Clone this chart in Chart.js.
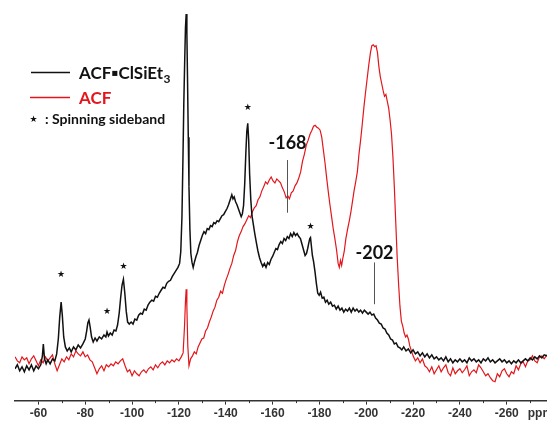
<!DOCTYPE html>
<html>
<head>
<meta charset="utf-8">
<script src="https://cdn.jsdelivr.net/npm/chart.js@4"></script>
<style>
  body { margin: 0; background: #fff; }
  canvas { display: block; }
</style>
</head>
<body>
<canvas id="myChart" width="547" height="423"></canvas>
<script>
// chemical shift (ppm) and intensity (a.u.)
const blackPpm = [
  -50, -51, -52, -53, -54, -55, -56, -57, -58, -59,
  -60, -61, -61.7, -62.1, -62.6, -63.3, -64, -65, -66, -67,
  -67.8, -68.5, -69.1, -69.7, -70.2, -70.8, -71.5, -72.3, -73.2, -74,
  -75, -76, -77, -78, -79, -80, -80.6, -81.1, -81.6, -82.1,
  -82.7, -83.4, -84.2, -85, -86, -87, -88, -88.8, -89.3, -89.9,
  -90.7, -91.5, -92.3, -93.1, -93.8, -94.5, -95.1, -95.7, -96.3, -96.9,
  -97.5, -98.1, -98.8, -99.6, -100.4, -101.2, -102, -102.8, -103.6, -104.4,
  -105.2, -106, -106.8, -107.6, -108.4, -109.2, -110, -110.8, -111.6, -112.4,
  -113.2, -114, -114.8, -115.6, -116.4, -117.2, -118, -118.8, -119.6, -120.3,
  -120.8, -121.3, -121.7, -122.1, -122.5, -122.8, -123.1, -123.4, -123.7, -124,
  -124.3, -124.7, -125.1, -125.6, -126.1, -126.7, -127.3, -127.9, -128.6, -129.3,
  -130, -130.7, -131.4, -132.1, -132.8, -133.5, -134.2, -134.9, -135.6, -136.3,
  -137, -137.7, -138.4, -139.1, -139.8, -140.5, -141.2, -141.9, -142.6, -143.1,
  -143.6, -144.2, -144.8, -145.4, -146, -146.6, -147.1, -147.6, -148.1, -148.6,
  -149, -149.4, -149.8, -150.2, -150.7, -151.2, -151.8, -152.4, -153, -153.7,
  -154.4, -155.1, -155.8, -156.5, -157.2, -157.9, -158.6, -159.3, -160, -160.7,
  -161.4, -162.1, -162.8, -163.5, -164.2, -164.9, -165.6, -166.3, -167, -167.7,
  -168.4, -169.1, -169.8, -170.5, -171.2, -171.9, -172.6, -173.3, -173.9, -174.5,
  -175, -175.5, -175.9, -176.2, -176.6, -177, -177.5, -178.1, -178.7, -179.3,
  -179.9, -180.5, -181.2, -181.9, -182.6, -183.3, -184, -184.8, -185.6, -186.4,
  -187.2, -188, -188.8, -189.6, -190.4, -191.2, -192, -192.8, -193.6, -194.4,
  -195.2, -196, -196.8, -197.6, -198.4, -199.2, -200, -200.8, -201.6, -202.4,
  -203.2, -204, -204.8, -205.6, -206.4, -207.2, -208, -208.8, -209.6, -210.4,
  -211.2, -212, -212.8, -213.6, -214.4, -215.2, -216, -217, -218, -219,
  -220, -221, -222, -223, -224, -225, -226, -227, -228, -229,
  -230, -231, -232, -233, -234, -235, -236, -237, -238, -239,
  -240, -241, -242, -243, -244, -245, -246, -247, -248, -249,
  -250, -251, -252, -253, -254, -255, -256, -257, -258, -259,
  -260, -261, -262, -263, -264, -265, -266, -267, -268, -269,
  -270, -271, -272, -273, -274, -275, -276, -277.2
];
const blackInt = [
  32, 36, 30, 34, 29, 35, 31, 36, 30, 35,
  32, 36, 45, 57, 42, 37, 41, 37, 42, 40,
  47, 62, 84, 99, 86, 64, 54, 50, 53, 49,
  54, 51, 56, 53, 57, 62, 70, 78, 81, 74,
  64, 59, 63, 60, 64, 62, 66, 64, 69, 65,
  68, 66, 71, 70, 76, 88, 103, 116, 122, 108,
  90, 79, 77, 79, 77, 82, 81, 86, 88, 87,
  92, 91, 96, 99, 101, 100, 105, 104, 108, 111,
  114, 113, 118, 120, 121, 125, 128, 131, 134, 138,
  150, 185, 240, 300, 345, 375, 389, 370, 320, 265,
  215, 172, 148, 139, 134, 140, 145, 149, 156, 161,
  166, 170, 168, 173, 172, 176, 175, 179, 178, 181,
  180, 183, 186, 187, 190, 193, 197, 202, 207, 203,
  205, 200, 197, 193, 189, 185, 188, 196, 218, 250,
  271, 279, 262, 228, 202, 186, 177, 168, 160, 151,
  144, 139, 135, 138, 134, 139, 137, 142, 145, 149,
  153, 152, 157, 160, 158, 163, 161, 165, 163, 168,
  165, 169, 166, 168, 165, 163, 157, 151, 146, 148,
  153, 159, 163, 164, 155, 146, 140, 130, 118, 108,
  106, 109, 103, 104, 99, 101, 97, 99, 95, 96,
  92, 95, 91, 93, 89, 92, 90, 93, 89, 93,
  90, 92, 89, 91, 88, 91, 89, 87, 89, 86,
  87, 83, 81, 78, 77, 73, 72, 68, 66, 62,
  61, 57, 58, 54, 53, 51, 54, 50, 52, 48,
  51, 47, 49, 45, 48, 44, 47, 43, 46, 42,
  44, 41, 43, 40, 44, 39, 42, 38, 41, 39,
  42, 39, 41, 38, 43, 40, 42, 39, 41, 38,
  42, 40, 43, 39, 41, 38, 40, 42, 39, 41,
  38, 40, 37, 40, 38, 41, 38, 40, 42, 40,
  43, 41, 44, 42, 45, 43, 46, 45
];

const redPpm = [
  -50, -51, -52, -53, -54, -55, -56, -57, -58, -59,
  -60, -61, -62, -63, -64, -65, -66, -67, -68, -69,
  -70, -71, -72, -73, -74, -75, -76, -77, -78, -79,
  -80, -81, -82, -83, -84, -85, -86, -87, -88, -89,
  -90, -91, -92, -93, -94, -95, -96, -97, -98, -99,
  -100, -101, -102, -103, -104, -105, -106, -107, -108, -109,
  -110, -111, -112, -113, -114, -115, -116, -117, -118, -119,
  -120, -121, -121.8, -122.4, -122.8, -123.1, -123.4, -123.8, -124.3, -125,
  -125.8, -126.6, -127.4, -128.2, -129, -129.8, -130.6, -131.4, -132.2, -133,
  -133.8, -134.6, -135.4, -136.2, -137, -137.8, -138.6, -139.4, -140.2, -141,
  -141.8, -142.6, -143.4, -144.2, -145, -145.8, -146.6, -147.4, -148.2, -149,
  -149.8, -150.6, -151.4, -152.2, -153, -153.8, -154.6, -155.4, -156.2, -157,
  -157.8, -158.6, -159.4, -160.2, -161, -161.8, -162.6, -163.4, -164.2, -165,
  -165.8, -166.5, -167.2, -168, -168.8, -169.6, -170.4, -171.2, -172, -172.8,
  -173.6, -174.4, -175.2, -176, -176.8, -177.5, -178.2, -178.9, -179.6, -180.3,
  -181, -181.7, -182.4, -183.1, -183.8, -184.5, -185.2, -185.9, -186.6, -187.3,
  -188, -188.5, -189, -189.5, -190, -190.6, -191.3, -192, -192.7, -193.4,
  -194.1, -194.8, -195.5, -196.2, -196.9, -197.6, -198.3, -199, -199.7, -200.4,
  -201.1, -201.8, -202.4, -203, -203.6, -204.2, -204.8, -205.4, -206, -206.6,
  -207.2, -207.8, -208.4, -209, -209.6, -210.2, -210.8, -211.4, -212, -212.6,
  -213.2, -213.8, -214.4, -215, -215.6, -216.2, -216.8, -217.4, -218, -218.6,
  -219.3, -220, -221, -222, -223, -224, -225, -226, -227, -228,
  -229, -230, -231, -232, -233, -234, -235, -236, -237, -238,
  -239, -240, -241, -242, -243, -244, -245, -246, -247, -248,
  -249, -250, -251, -252, -253, -254, -255, -256, -257, -258,
  -259, -260, -261, -262, -263, -264, -265, -266, -267, -268,
  -269, -270, -271, -272, -273, -274, -275, -276, -277.2
];
const redInt = [
  44, 40, 38, 44, 41, 43, 37, 42, 45, 40,
  35, 41, 38, 44, 40, 43, 46, 37, 30, 36,
  42, 39, 44, 41, 47, 44, 50, 47, 45, 49,
  44, 46, 41, 39, 33, 27, 32, 35, 30, 36,
  34, 37, 35, 39, 37, 40, 42, 35, 29, 31,
  25, 30, 27, 25, 29, 31, 28, 32, 34, 31,
  36, 33, 37, 39, 36, 40, 38, 41, 39, 42,
  40, 44, 48, 75, 100, 112, 95, 55, 35, 42,
  45, 49, 47, 54, 58, 62, 63, 70, 73, 79,
  84, 90, 94, 101, 104, 110, 108, 116, 122, 127,
  133, 138, 146, 151, 160, 166, 170, 175, 178, 182,
  186, 184, 190, 194, 196, 202, 205, 211, 215, 220,
  218, 222, 225, 221, 219, 223, 221, 219, 214, 210,
  204, 206, 203, 209, 211, 216, 219, 224, 230, 241,
  248, 257, 262, 268, 272, 276, 277, 275, 274, 272,
  265, 252, 239, 224, 210, 197, 185, 173, 163, 152,
  138, 134, 141, 136, 143, 150, 163, 172, 180, 189,
  200, 211, 220, 230, 248, 262, 278, 295, 310, 324,
  338, 350, 357, 358, 356, 357, 350, 336, 326, 319,
  312, 306, 308, 301, 294, 282, 268, 245, 215, 180,
  145, 118, 95, 80, 75, 68, 64, 66, 62, 55,
  50, 45, 40, 43, 38, 42, 35, 33, 29, 34,
  27, 31, 35, 29, 33, 36, 28, 25, 33, 27,
  30, 32, 28, 31, 35, 25, 29, 31, 28, 36,
  33, 29, 25, 27, 23, 20, 19, 27, 24, 30,
  32, 27, 24, 29, 27, 35, 31, 37, 39, 34,
  40, 41, 45, 40, 38, 44, 45, 42, 46
];

// axis ticks
const tickVals = [-60, -80, -100, -120, -140, -160, -180, -200, -220, -240, -260];
const minorVals = [-70, -90, -110, -130, -150, -170, -190, -210, -230, -250, -270];

// spinning sidebands (star positions)
const starPpm = [-69.7, -89.3, -96.3, -149.4, -176.2];
const starInt = [127, 89, 135, 295, 175];

// marked shifts
const markLabels = ['-168', '-202'];
const markPpm = [-166.3, -203.3];
const markTop = [242, 139];
const markBottom = [189, 97];
const markText = [259, 148];

const seriesNames = ['ACF\u25AAClSiEt', 'ACF'];
const seriesColors = ['#111111', '#e3161b'];

const toXY = (xs, ys) => xs.map((x, i) => ({ x: x, y: ys[i] }));

const extras = {
  id: 'extras',
  afterDraw(chart) {
    const ctx = chart.ctx;
    const xs = chart.scales.x, ys = chart.scales.y;
    const axisY = chart.chartArea.bottom;
    ctx.save();

    // minor ticks
    ctx.strokeStyle = '#333';
    ctx.lineWidth = 1;
    minorVals.forEach(v => {
      const px = Math.round(xs.getPixelForValue(v)) + 0.5;
      ctx.beginPath();
      ctx.moveTo(px, axisY);
      ctx.lineTo(px, axisY + 2.5);
      ctx.stroke();
    });

    // unit label
    ctx.fillStyle = '#333';
    ctx.font = 'bold 12px "Liberation Sans"';
    ctx.textBaseline = 'middle';
    ctx.textAlign = 'left';
    ctx.fillText('ppm', xs.getPixelForValue(-260) + 21, axisY + 13);

    // legend
    ctx.lineWidth = 1.5;
    ctx.strokeStyle = seriesColors[0];
    ctx.beginPath(); ctx.moveTo(31, 72.5); ctx.lineTo(70, 72.5); ctx.stroke();
    ctx.strokeStyle = seriesColors[1];
    ctx.beginPath(); ctx.moveTo(30, 97.5); ctx.lineTo(70, 97.5); ctx.stroke();

    ctx.textAlign = 'left';
    ctx.textBaseline = 'alphabetic';
    ctx.fillStyle = seriesColors[0];
    ctx.font = 'bold 17px Lato';
    ctx.fillText(seriesNames[0], 79, 79);
    const w = ctx.measureText(seriesNames[0]).width;
    ctx.font = 'bold 12px Lato';
    ctx.fillText('3', 79 + w + 0.5, 83);
    ctx.fillStyle = seriesColors[1];
    ctx.font = 'bold 17px Lato';
    ctx.fillText(seriesNames[1], 79, 104);

    ctx.fillStyle = '#111';
    ctx.font = '9px "DejaVu Sans"';
    ctx.textAlign = 'center';
    ctx.textBaseline = 'middle';
    ctx.fillText('\u2605', 33.5, 120);
    ctx.font = 'bold 14px Lato';
    ctx.textAlign = 'left';
    ctx.fillText(': Spinning sideband', 45, 119.5);

    // stars over sidebands
    ctx.font = '9px "DejaVu Sans"';
    ctx.textAlign = 'center';
    starPpm.forEach((p, i) => {
      ctx.fillText('\u2605', xs.getPixelForValue(p), ys.getPixelForValue(starInt[i]));
    });

    // marked shifts
    ctx.strokeStyle = '#555';
    ctx.lineWidth = 1;
    ctx.font = 'bold 18px Lato';
    ctx.fillStyle = '#111';
    markPpm.forEach((p, i) => {
      const px = Math.round(xs.getPixelForValue(p)) + 0.5;
      ctx.beginPath();
      ctx.moveTo(px, ys.getPixelForValue(markTop[i]));
      ctx.lineTo(px, ys.getPixelForValue(markBottom[i]));
      ctx.stroke();
      ctx.fillText(markLabels[i], px, ys.getPixelForValue(markText[i]));
    });

    ctx.restore();
  }
};

const ctx = document.getElementById('myChart').getContext('2d');
new Chart(ctx, {
  type: 'line',
  data: {
    datasets: [{
      label: seriesNames[0] + '3',
      data: toXY(blackPpm, blackInt),
      borderColor: seriesColors[0],
      borderWidth: 1.5,
      pointRadius: 0,
      tension: 0
    }, {
      label: seriesNames[1],
      data: toXY(redPpm, redInt),
      borderColor: seriesColors[1],
      borderWidth: 1.2,
      pointRadius: 0,
      tension: 0
    }]
  },
  options: {
    responsive: false,
    animation: false,
    parsing: false,
    layout: { padding: { left: 15, right: 0, top: 0, bottom: 0 } },
    plugins: { legend: { display: false }, tooltip: { enabled: false } },
    scales: {
      x: {
        type: 'linear',
        reverse: true,
        min: -277.2,
        max: -50,
        afterBuildTicks: s => { s.ticks = tickVals.map(v => ({ value: v })); },
        ticks: {
          font: { family: 'Liberation Sans', size: 12, weight: 'bold' },
          color: '#333',
          padding: 2,
          maxRotation: 0,
          autoSkip: false,
          callback: v => String(v)
        },
        grid: { drawOnChartArea: false, tickLength: 4, color: '#333', lineWidth: 1 },
        border: { color: '#333', width: 1.5 }
      },
      y: { display: false, min: 0, max: 403 }
    }
  },
  plugins: [extras]
});
</script>
</body>
</html>
